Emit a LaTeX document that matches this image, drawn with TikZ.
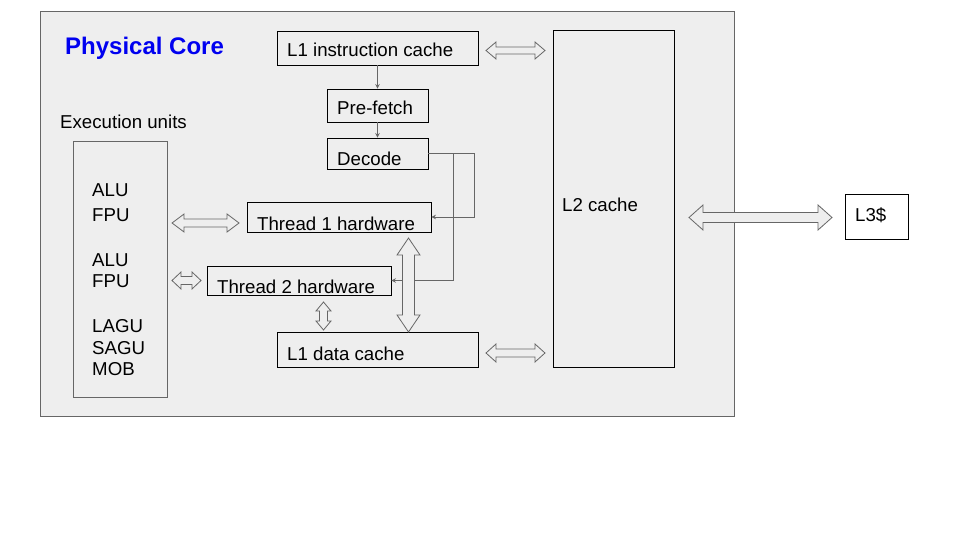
\documentclass[tikz,border=0pt]{standalone}
\usepackage{fontspec}
\setmainfont{Liberation Sans}
\usetikzlibrary{arrows.meta}
\definecolor{bgcore}{RGB}{238,238,238}
\definecolor{edgegray}{RGB}{102,102,102}
\definecolor{titleblue}{RGB}{0,0,240}
% horizontal hollow double arrow: x1, x2, y, head width, shaft width, head length
\newcommand\hollowH[6]{%
  \draw[hollow] (#1,#3) -- (#1+#6,#3-#4/2) -- (#1+#6,#3-#5/2) -- (#2-#6,#3-#5/2) -- (#2-#6,#3-#4/2) -- (#2,#3)
    -- (#2-#6,#3+#4/2) -- (#2-#6,#3+#5/2) -- (#1+#6,#3+#5/2) -- (#1+#6,#3+#4/2) -- cycle;}
% vertical hollow double arrow: y1, y2, x, head width, shaft width, head length
\newcommand\hollowV[6]{%
  \draw[hollow] (#3,#1) -- (#3-#4/2,#1+#6) -- (#3-#5/2,#1+#6) -- (#3-#5/2,#2-#6) -- (#3-#4/2,#2-#6) -- (#3,#2)
    -- (#3+#4/2,#2-#6) -- (#3+#5/2,#2-#6) -- (#3+#5/2,#1+#6) -- (#3+#4/2,#1+#6) -- cycle;}
\tikzset{
  box/.style={draw=black, line width=0.9pt, rectangle, inner sep=0pt},
  lbl/.style={inner sep=0pt, anchor=base west, font=\fontsize{18.67}{22}\selectfont},
  hollow/.style={draw=edgegray, fill=bgcore, line width=0.8pt, line join=miter},
  conn/.style={draw=edgegray, line width=0.9pt, -{Stealth[length=4.5pt,width=4.5pt]}},
}
\begin{document}
\begin{tikzpicture}[x=1pt,y=-1pt]
\useasboundingbox[fill=white] (0,0) rectangle (960,540);
% outer core
\node[draw=edgegray, fill=bgcore, line width=0.9pt, inner sep=0pt, minimum width=694pt, minimum height=405pt] (core) at (387,213.5) {};
\node[lbl, font=\fontsize{24}{28}\selectfont\bfseries, text=titleblue] (title) at (65,55) {Physical Core};
% boxes
\node[box, minimum width=201pt, minimum height=34pt] (icache) at (377.5,48) {};
\node[box, minimum width=101pt, minimum height=33pt] (prefetch) at (377.5,105.5) {};
\node[box, minimum width=101pt, minimum height=31pt] (decode) at (377.5,153.5) {};
\node[box, minimum width=184pt, minimum height=30pt] (t1) at (339,217) {};
\node[box, minimum width=184pt, minimum height=29pt] (t2) at (299,280.5) {};
\node[box, minimum width=201pt, minimum height=35pt] (dcache) at (377.5,349.5) {};
\node[draw=edgegray, line width=0.9pt, inner sep=0pt, minimum width=94pt, minimum height=256pt] (exec) at (120,269) {};
\node[box, minimum width=121pt, minimum height=337pt] (l2) at (613.5,198.5) {};
\node[box, fill=white, minimum width=63pt, minimum height=45pt] (l3) at (876.5,216.5) {};
% labels
\node[lbl] (ticache) at (287,57) {L1 instruction cache};
\node[lbl] (tprefetch) at (337,115) {Pre-fetch};
\node[lbl] (tdecode) at (337,166) {Decode};
\node[lbl] (tt1) at (257,230) {Thread 1 hardware};
\node[lbl] (tt2) at (217,293) {Thread 2 hardware};
\node[lbl] (tdcache) at (287,360) {L1 data cache};
\node[lbl] (texec) at (60,129) {Execution units};
\node[lbl] (tl2) at (562,211.5) {L2 cache};
\node[lbl] (tl3) at (855,221.5) {L3\$};
\node[lbl] (e1) at (92,196.7) {ALU};
\node[lbl] (e2) at (92,221.7) {FPU};
\node[lbl] (e3) at (92,266) {ALU};
\node[lbl] (e4) at (92,287) {FPU};
\node[lbl] (e5) at (92,332.7) {LAGU};
\node[lbl] (e6) at (92,354) {SAGU};
\node[lbl] (e7) at (92,375.7) {MOB};
% pipeline connectors
\draw[conn] (icache.south) -- (prefetch.north);
\draw[conn] (prefetch.south) -- (decode.north);
\draw[conn] (decode.east) -- ++(46,0) |- (t1.east);
\draw[conn] (decode.east) ++(25,0) |- (t2.east);
% hollow double arrows
\hollowH{486}{545}{50.5}{17}{7}{10}
\hollowH{486}{545}{353}{18}{8}{10}
\hollowH{689}{832}{217.5}{25}{10}{14}
\hollowH{172}{239}{223}{18}{8}{12}
\hollowH{172}{201}{280.5}{17}{8}{9}
\hollowV{238}{332}{408.5}{23}{12}{17}
\hollowV{302}{330}{323.5}{15}{8}{9}
\end{tikzpicture}
\end{document}
